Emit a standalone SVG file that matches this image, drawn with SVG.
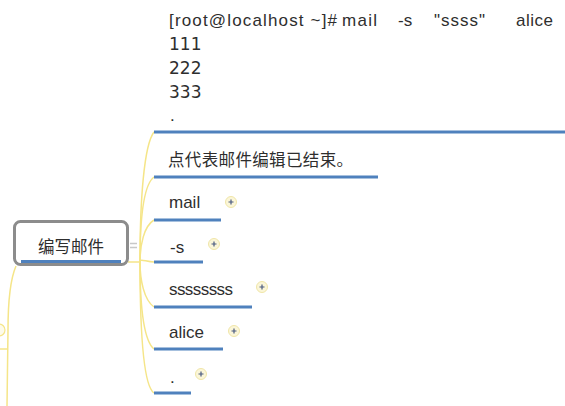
<svg xmlns="http://www.w3.org/2000/svg" width="565" height="406" viewBox="0 0 565 406">
<defs>
<style>
.t{font-family:"Liberation Sans","Noto Sans CJK SC",sans-serif;font-size:17px;fill:#2e2e2e}
.d{font-family:"DejaVu Sans","Liberation Sans",sans-serif;font-size:17px;fill:#2e2e2e}
.c{font-family:"Noto Sans CJK SC","Liberation Sans",sans-serif;font-size:16.5px;fill:#2e2e2e}
.u{stroke:#4f81bd;stroke-width:3;fill:none}
.y{stroke:#f5e588;stroke-width:1.5;fill:none}
.pc{fill:#fbf6d8;stroke:#f0e6a8;stroke-width:1}
.pp{stroke:#4a5a80;stroke-width:1.2}
</style>
<g id="plus">
<circle class="pc" cx="0" cy="0" r="5.5"/>
<path class="pp" d="M-2.5,0H2.5M0,-2.5V2.5"/>
</g>
</defs>
<rect width="565" height="406" fill="#ffffff"/>
<g id="connectors">
<path class="y" d="M128,262 H140"/>
<path class="y" d="M140,262 C140,200 144,145 154,132"/>
<path class="y" d="M140,262 C140,220 143,185 154,177"/>
<path class="y" d="M140,262 C140,245 144,226 154,220"/>
<path class="y" d="M140,262 C140,258 146,262 154,262"/>
<path class="y" d="M140,262 C140,280 144,300 154,307"/>
<path class="y" d="M140,262 C140,300 143,340 154,349"/>
<path class="y" d="M140,262 C140,320 142,385 154,393"/>
<path class="y" d="M16,266 C10,280 8,300 8,330 L7,406"/>
<path class="y" d="M0,349 H8"/>
<circle cx="-1" cy="330" r="6" fill="#fdfbea" stroke="#f5e588" stroke-width="1.2"/>
<path d="M130,243.5 H137 M130,247.5 H137" stroke="#c8c8c8" stroke-width="1.5"/>
</g>
<g id="main">
<rect x="14.5" y="221.5" width="113" height="43" rx="6" fill="#fff" stroke="#8c8c8c" stroke-width="3"/>
<line class="u" x1="21" y1="261.5" x2="121" y2="261.5"/>
<text class="c" x="71" y="253" text-anchor="middle" font-size="17.5">编写邮件</text>
</g>
<g id="cmd">
<text class="t" y="26" font-size="18"><tspan x="169" textLength="168">[root@localhost ~]#</tspan><tspan x="342" textLength="35">mail</tspan><tspan x="398">-s</tspan><tspan x="434" textLength="51">"ssss"</tspan><tspan x="516" textLength="37">alice</tspan></text>
<text class="d" x="169" y="50">111</text>
<text class="d" x="169" y="74">222</text>
<text class="d" x="169" y="98">333</text>
<text class="t" x="170" y="121">.</text>
<line class="u" x1="154" y1="132" x2="565" y2="132"/>
</g>
<g id="note">
<text class="c" x="168" y="166" textLength="185">点代表邮件编辑已结束。</text>
<line class="u" x1="154" y1="177" x2="378" y2="177"/>
</g>
<g id="mail">
<text class="t" x="169" y="208">mail</text>
<line class="u" x1="154" y1="220" x2="221" y2="220"/>
<use href="#plus" x="231" y="202"/>
</g>
<g id="opt-s">
<text class="t" x="170" y="253">-s</text>
<line class="u" x1="154" y1="262" x2="203" y2="262"/>
<use href="#plus" x="214" y="244"/>
</g>
<g id="subject">
<text class="t" x="169" y="295" textLength="64">ssssssss</text>
<line class="u" x1="154" y1="307" x2="252" y2="307"/>
<use href="#plus" x="262" y="287"/>
</g>
<g id="alice">
<text class="t" x="169" y="338">alice</text>
<line class="u" x1="154" y1="349" x2="223" y2="349"/>
<use href="#plus" x="234" y="331"/>
</g>
<g id="dot">
<text class="t" x="170" y="383">.</text>
<line class="u" x1="154" y1="393" x2="191" y2="393"/>
<use href="#plus" x="201" y="374"/>
</g>
</svg>
